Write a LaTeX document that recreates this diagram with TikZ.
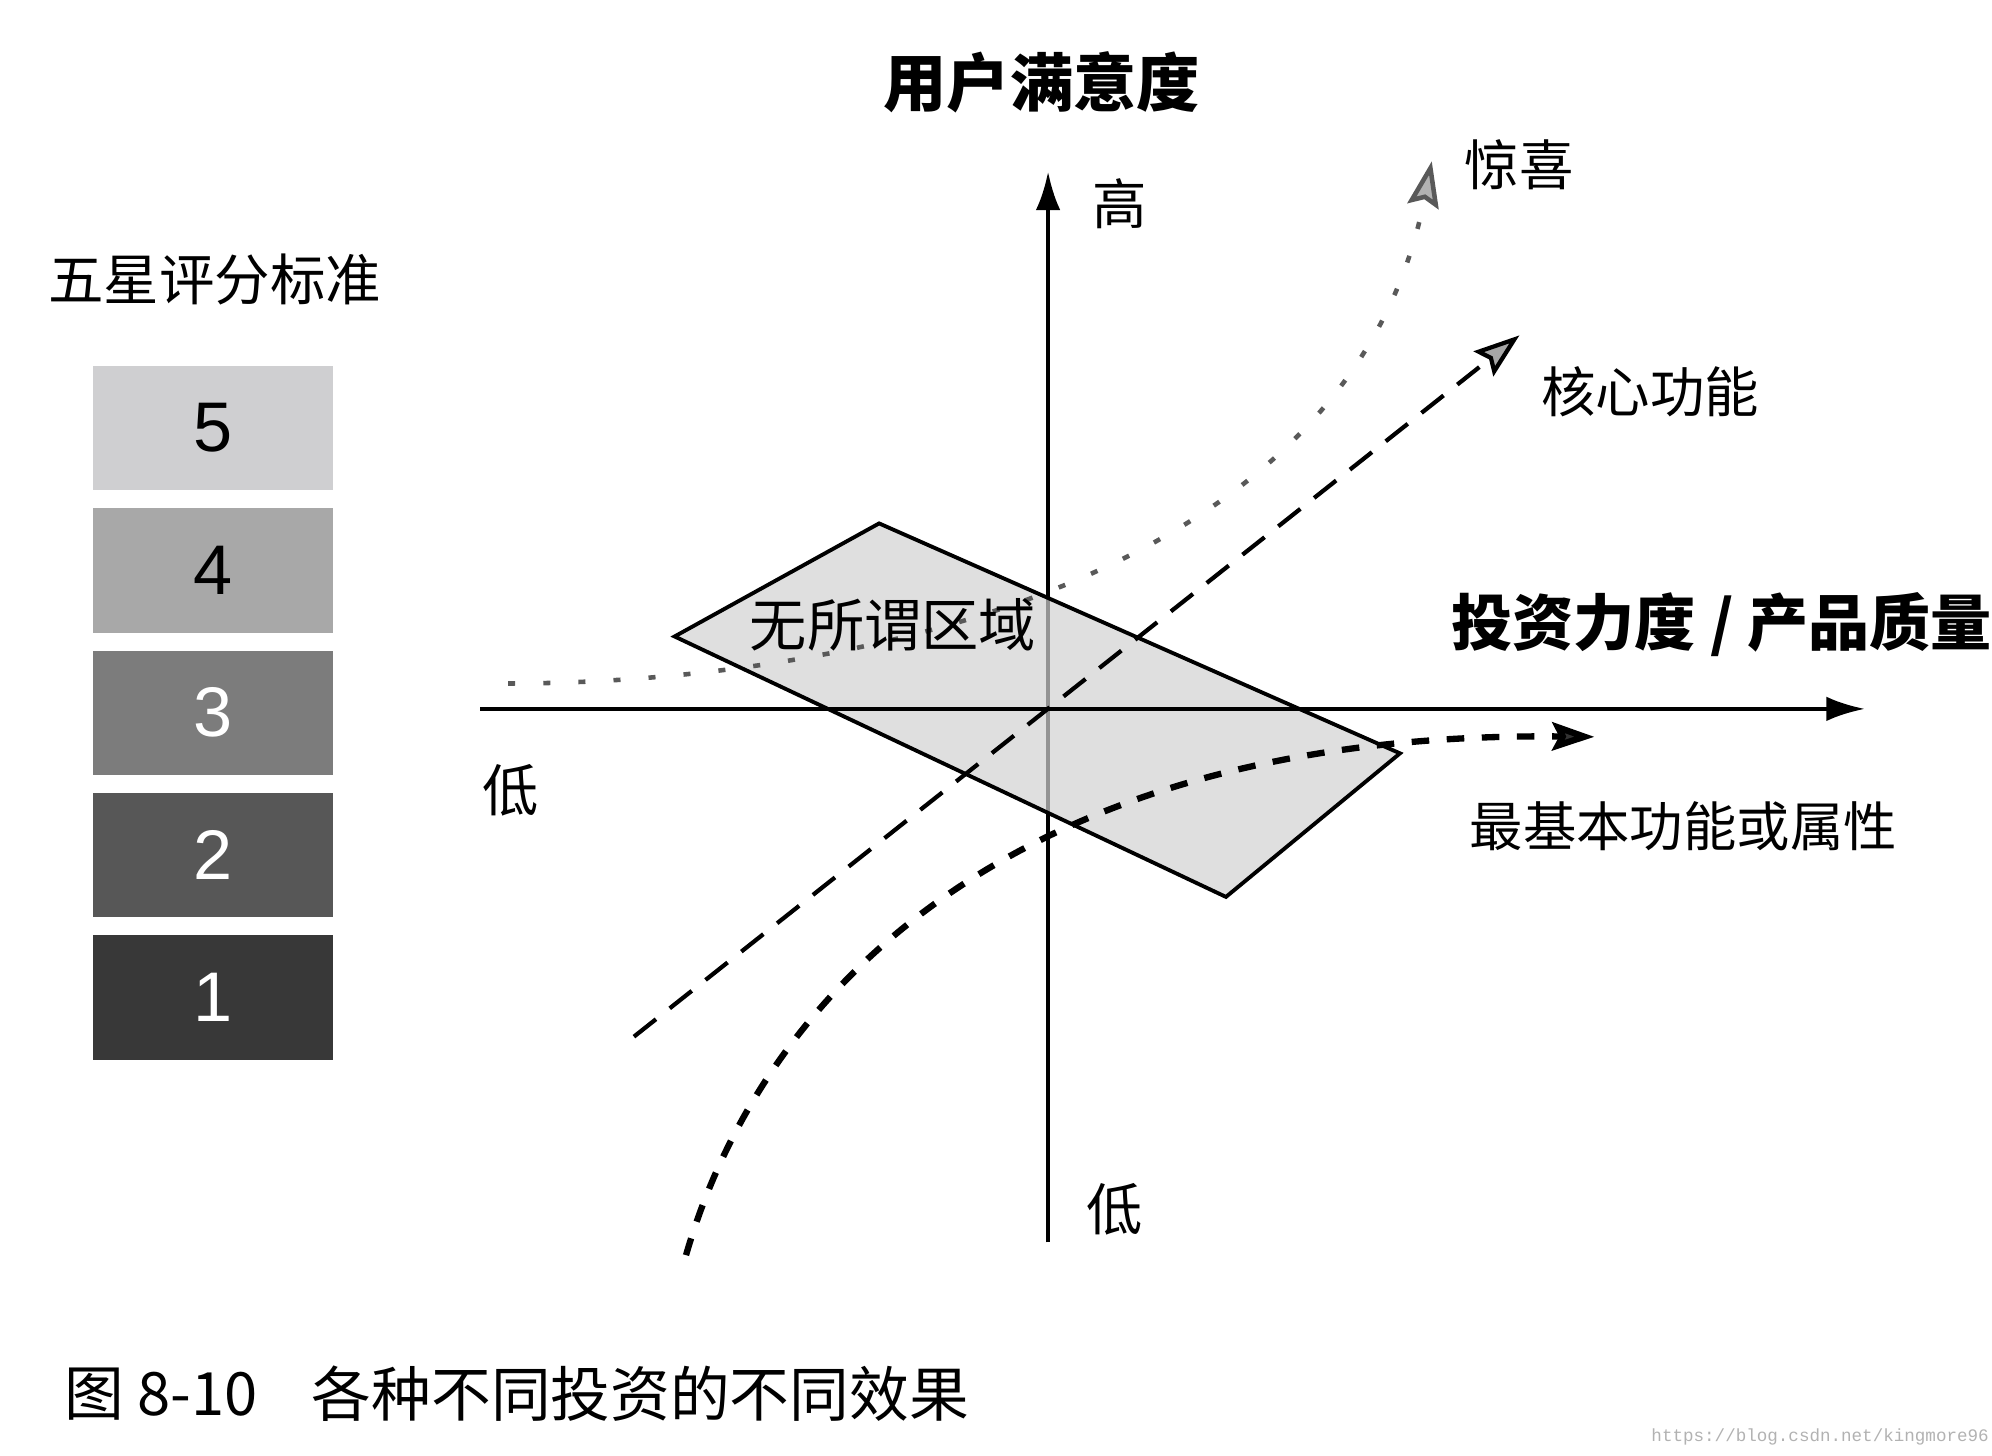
\documentclass[tikz,border=0pt]{standalone}
\usepackage{fontspec}
\newfontfamily\cjk{Noto Sans CJK SC}
\newfontfamily\numfont{Liberation Sans}
\newfontfamily\urlfont{Liberation Mono}
\usetikzlibrary{arrows.meta,positioning}
\definecolor{rfive}{HTML}{CFCFD1}
\definecolor{rfour}{HTML}{A8A8A8}
\definecolor{rthree}{HTML}{7C7C7C}
\definecolor{rtwo}{HTML}{575757}
\definecolor{rone}{HTML}{383838}
\tikzset{
  rate/.style={rectangle, minimum width=2.4cm, minimum height=1.245cm, inner sep=0pt, font=\numfont\fontsize{20pt}{24pt}\selectfont},
  lbl/.style={font=\cjk\fontsize{15.5pt}{18pt}\selectfont, inner sep=0pt},
  blbl/.style={font=\cjk\bfseries\fontsize{18pt}{21pt}\selectfont, inner sep=0pt},
  axis/.style={line width=1.2pt, -{Latex[length=11pt, width=7pt]}},
  zone/.style={draw, line width=1.1pt, fill=gray!35, fill opacity=0.7},
  surpline/.style={gray!70!black, line width=1.3pt, dash pattern=on 2pt off 8pt, -{Stealth[length=13pt, width=9pt, inset=2pt, fill=gray!60]}},
  coreline/.style={line width=1.2pt, dash pattern=on 8pt off 5pt, -{Stealth[length=13pt, width=9pt, inset=2pt, fill=gray!70]}},
  basicline/.style={line width=1.8pt, dash pattern=on 5pt off 5pt, -{Stealth[length=12pt, width=8pt, inset=2pt, fill=gray!40!black]}},
}
\begin{document}
\begin{tikzpicture}[x=0.012704cm, y=-0.012704cm]
\useasboundingbox (0,0) rectangle (1568,1146);

% legend
\node[lbl, font=\cjk\fontsize{15.8pt}{18pt}\selectfont] (legend) at (169,220) {五星评分标准};
\node[rate, fill=rfive] (r5) at (168,337) {5};
\node[rate, fill=rfour, below=0.165cm of r5] (r4) {4};
\node[rate, fill=rthree, text=white, below=0.165cm of r4] (r3) {3};
\node[rate, fill=rtwo, text=white, below=0.165cm of r3] (r2) {2};
\node[rate, fill=rone, text=white, below=0.165cm of r2] (r1) {1};

% axes and zone
\coordinate (yb) at (825,978);
\coordinate (yt) at (825,135);
\coordinate (xl) at (378,558);
\coordinate (xr) at (1468,558);
\coordinate (zt) at (692,412);
\coordinate (zl) at (531,501);
\coordinate (zb) at (965,706);
\coordinate (zr) at (1102,593);

\draw[axis] (yb) -- (yt);
\draw[zone] (zt) -- (zr) -- (zb) -- (zl) -- cycle;
\draw[axis] (xl) -- (xr);

% curves
\coordinate (s0) at (400,538);
\coordinate (s1) at (1127,127);
\coordinate (c0) at (499,816);
\coordinate (c1) at (1196,264);
\coordinate (b0) at (540,988);
\coordinate (b1) at (1255,580);

\draw[surpline] (s0) .. controls (640,538) and (1060,470) .. (s1);
\draw[coreline] (c0) -- (c1);
\draw[basicline] (b0) .. controls (600,780) and (800,575) .. (b1);

% labels
\node[blbl] (ttl) at (820,65) {用户满意度};
\node[lbl] (hi) at (881,160) {高};
\node[lbl, font=\cjk\fontsize{16pt}{18pt}\selectfont] (lo) at (877,952) {低};
\node[lbl, font=\cjk\fontsize{16pt}{18pt}\selectfont] (lox) at (402,622) {低};
\node[blbl, font=\cjk\bfseries\fontsize{17.4pt}{21pt}\selectfont, anchor=west] (xlab) at (1142,492) {投资力度 / 产品质量};
\node[lbl] (surp) at (1196,130) {惊喜};
\node[lbl] (core) at (1299,308) {核心功能};
\node[lbl, font=\cjk\fontsize{15.2pt}{18pt}\selectfont] (basic) at (1325,650) {最基本功能或属性};
\node[lbl, font=\cjk\fontsize{16.3pt}{18pt}\selectfont] (zonelbl) at (703,492) {无所谓区域};

% caption
\node[lbl, font=\cjk\fontsize{17pt}{20pt}\selectfont, anchor=west] (cap) at (50,1097) {图 8-10};
\node[lbl, font=\cjk\fontsize{17pt}{20pt}\selectfont, anchor=west] (capt) at (245,1097) {各种不同投资的不同效果};
\node[font=\urlfont\fontsize{5pt}{6pt}\selectfont, text=gray!60, anchor=east, inner sep=0pt] (url) at (1566,1131) {https://blog.csdn.net/kingmore96};
\end{tikzpicture}
\end{document}
